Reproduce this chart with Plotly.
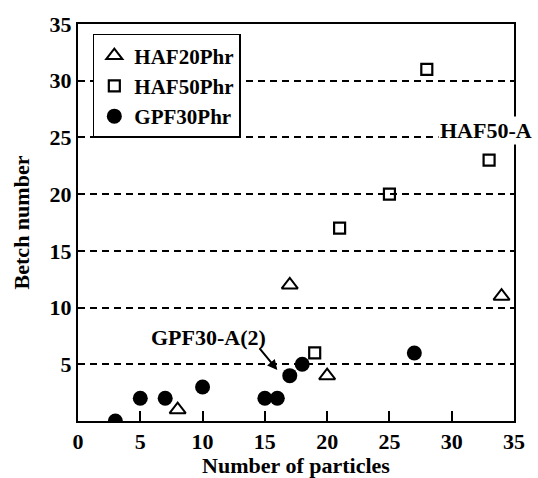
import plotly.graph_objects as go

# Data
haf20_x = [8, 17, 20, 34]
haf20_y = [1, 12, 4, 11]

haf50_x = [28, 33, 25, 21, 19]
haf50_y = [31, 23, 20, 17, 6]

gpf30_x = [3, 5, 7, 10, 15, 16, 17, 18, 27]
gpf30_y = [0, 2, 2, 3, 2, 2, 4, 5, 6]

x_ticks = [0, 5, 10, 15, 20, 25, 30, 35]
y_ticks = [5, 10, 15, 20, 25, 30, 35]

FONT = "Liberation Serif"
FS = 22


def b(s):
    return "<b>" + s + "</b>"


fig = go.Figure()
fig.add_trace(go.Scatter(
    x=haf20_x, y=haf20_y, mode="markers", name=b("HAF20Phr"),
    marker=dict(symbol="triangle-up-open", size=14, color="black",
                line=dict(width=2, color="black")),
))
fig.add_trace(go.Scatter(
    x=haf50_x, y=haf50_y, mode="markers", name=b("HAF50Phr"),
    marker=dict(symbol="square-open", size=11, color="black",
                line=dict(width=2.2, color="black")),
))
fig.add_trace(go.Scatter(
    x=gpf30_x, y=gpf30_y, mode="markers", name=b("GPF30Phr"),
    marker=dict(symbol="circle", size=15, color="black"),
))

fig.update_layout(
    width=538, height=478,
    margin=dict(l=78, r=24, t=24, b=57),
    paper_bgcolor="white", plot_bgcolor="white",
    font=dict(family=FONT, size=FS, color="black"),
    showlegend=True,
    legend=dict(
        x=0.034, y=0.975, xanchor="left", yanchor="top",
        bgcolor="white", bordercolor="black", borderwidth=1.5,
        font=dict(family=FONT, size=21, color="black"),
        tracegroupgap=0, itemwidth=30,
    ),
    xaxis=dict(
        range=[0, 35], tickvals=x_ticks, ticktext=[b(str(v)) for v in x_ticks],
        ticks="inside", ticklen=10,
        tickwidth=1.5, tickcolor="black",
        showline=True, linecolor="black", linewidth=2, mirror=True,
        showgrid=False, zeroline=False, automargin=False,
        title=dict(text=b("Number of particles"), standoff=8,
                   font=dict(family=FONT, size=FS)),
        tickfont=dict(family=FONT, size=FS),
    ),
    yaxis=dict(
        range=[0, 35], tickvals=y_ticks, ticktext=[b(str(v)) for v in y_ticks],
        ticks="",
        showline=True, linecolor="black", linewidth=2, mirror=True,
        showgrid=True, gridcolor="black", gridwidth=1.5, griddash="7px,5px",
        zeroline=False, automargin=False,
        title=dict(text=b("Betch number"), standoff=14,
                   font=dict(family=FONT, size=FS)),
        tickfont=dict(family=FONT, size=FS),
    ),
    annotations=[
        dict(x=32.75, y=25.6, xref="x", yref="y", text=b("HAF50-A"),
             showarrow=False, bgcolor="white",
             font=dict(family=FONT, size=FS)),
        dict(x=10.5, y=7.35, xref="x", yref="y", text=b("GPF30-A(2)"),
             showarrow=False, font=dict(family=FONT, size=FS)),
        dict(x=16.0, y=4.5, xref="x", yref="y", text="",
             showarrow=True, arrowhead=2, arrowsize=1, arrowwidth=2,
             arrowcolor="black", ax=-19, ay=-23),
    ],
)

# remove the browser's default page margin so the figure sits at (0, 0)
fig.write_html(
    "out.html",
    config={"displayModeBar": False},
    post_script="document.body.style.margin='0';document.body.style.padding='0';",
)
